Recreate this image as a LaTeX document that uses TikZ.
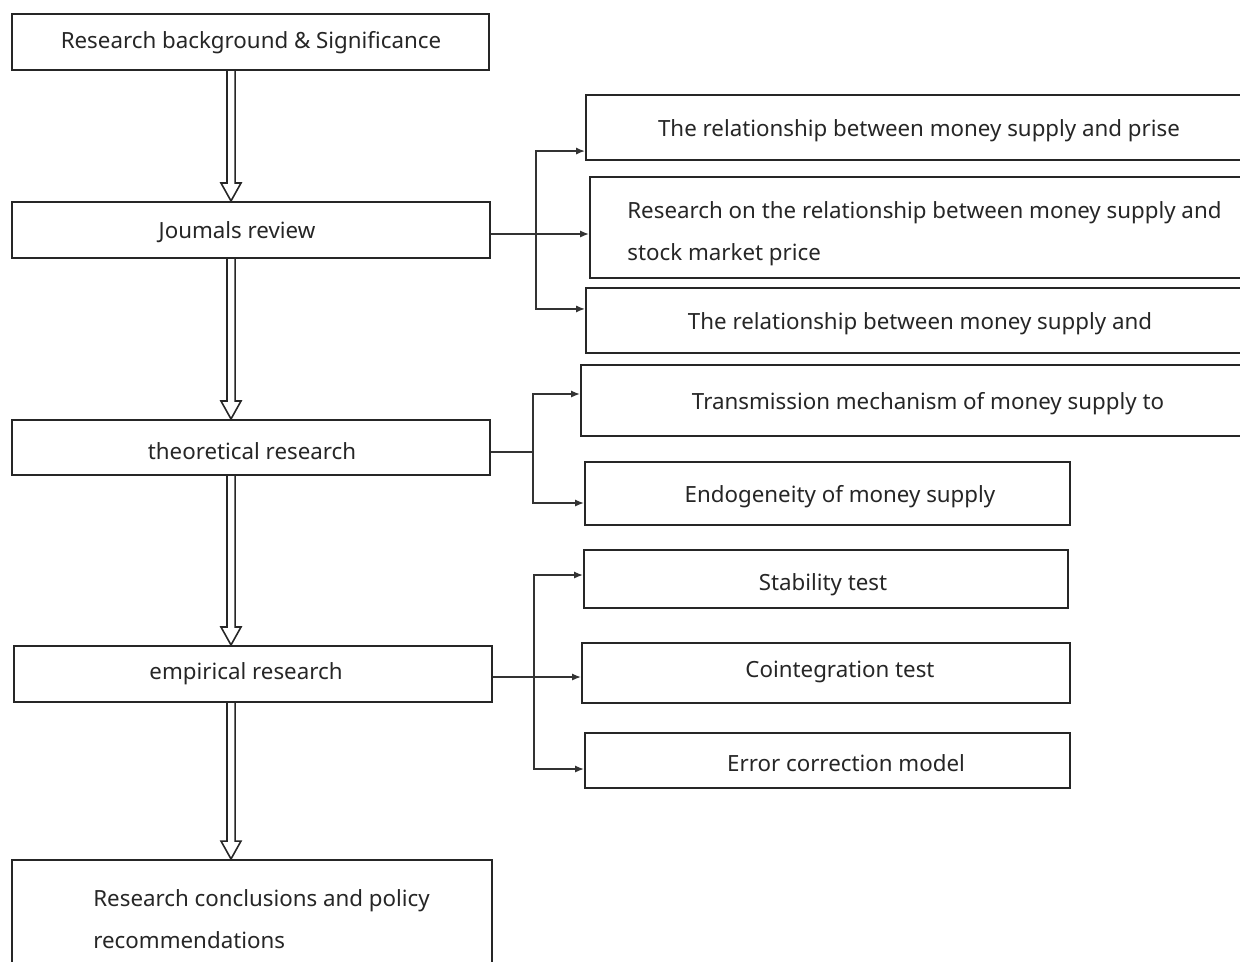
\documentclass[tikz,border=0pt]{standalone}
\usepackage{fontspec}
\setmainfont{Noto Sans}
\usetikzlibrary{calc,arrows.meta}
\newcommand{\bx}[5]{\node[box,minimum width={(#4-#2)*0.02cm},minimum height={(#5-#3)*0.02cm}] (#1) at ({(#2+#4)/2},{(#3+#5)/2}) {};}
\newcommand{\dbl}[2]{\draw[dblarrow] let \p1=(#1.south -| ax), \p2=(#2.north -| ax) in
  (\x1-2.3pt,\y1) -- (\x1-2.3pt,\y2+10.2pt) -- (\x1-5.7pt,\y2+10.2pt) -- (\x1,\y2) --
  (\x1+5.7pt,\y2+10.2pt) -- (\x1+2.3pt,\y2+10.2pt) -- (\x1+2.3pt,\y1);}
\begin{document}
\begin{tikzpicture}[x=0.02cm,y=-0.02cm,
  box/.style={draw=black!85,line width=1.2pt,inner sep=0pt,fill=white},
  txt/.style={font=\fontsize{12.7}{23.9}\selectfont,inner sep=0pt,text=black!85},
  link/.style={draw=black!80,line width=0.8pt},
  tip/.style={-{Latex[length=5pt,width=4pt]}},
  dblarrow/.style={draw=black!85,line width=0.9pt,fill=white,line join=miter}]
\useasboundingbox (0,0) rectangle (1240,961);
\clip (0,0) rectangle (1240,961);
% main column
\bx{b1}{12}{14}{489}{70}
\bx{b2}{12}{202}{490}{258}
\bx{b3}{12}{420}{490}{475}
\bx{b4}{14}{646}{492}{702}
\bx{b5}{12}{860}{492}{985}
\node[txt] (t1) at (251,43) {Research background \& Significance};
\node[txt] (t2) at (237,232) {Joumals review};
\node[txt] (t3) at (252,451) {theoretical research};
\node[txt] (t4) at (246,674) {empirical research};
\node[txt,align=left,anchor=west] (t5) at (93,919) {Research conclusions and policy\\recommendations};
% right boxes
\bx{r1}{586}{95}{1252}{160}
\bx{r2}{590}{177}{1262}{278}
\bx{r3}{586}{288}{1254}{353}
\bx{r4}{581}{365}{1275}{436}
\bx{r5}{585}{462}{1070}{525}
\bx{r6}{584}{550}{1068}{608}
\bx{r7}{582}{643}{1070}{703}
\bx{r8}{585}{733}{1070}{788}
\node[txt] (s1) at (919,131) {The relationship between money supply and prise};
\node[txt,align=left,anchor=west] (s2) at (627,234) {Research on the relationship between money supply and\\stock market price};
\node[txt] (s3) at (920,324) {The relationship between money supply and};
\node[txt] (s4) at (928,404) {Transmission mechanism of money supply to};
\node[txt] (s5) at (840,497) {Endogeneity of money supply};
\node[txt] (s6) at (823,585) {Stability test};
\node[txt] (s7) at (840,672) {Cointegration test};
\node[txt] (s8) at (846,763) {Error correction model};
% double arrows
\coordinate (ax) at (231,0);
\dbl{b1}{b2}
\dbl{b2}{b3}
\dbl{b3}{b4}
\dbl{b4}{b5}
% branch connectors
\coordinate (j1) at ($(b2.east)+(45,4)$);
\draw[link] (b2.east) ++(0,4) -- (j1);
\draw[link,tip] (j1) |- ($(r1.south west)+(0,-10)$);
\draw[link,tip] (j1) -- (j1 -| r2.west);
\draw[link,tip] (j1) |- ($(r3.north west)+(0,22)$);
\coordinate (j2) at ($(b3.east)+(42,4.5)$);
\draw[link] (b3.east) ++(0,4.5) -- (j2);
\draw[link,tip] (j2) |- ($(r4.west)+(0,-6.5)$);
\draw[link,tip] (j2) |- ($(r5.west)+(0,9.5)$);
\coordinate (j3) at ($(b4.east)+(41,3)$);
\draw[link] (b4.east) ++(0,3) -- (j3);
\draw[link,tip] (j3) |- ($(r6.west)+(0,-4)$);
\draw[link,tip] (j3) -- (j3 -| r7.west);
\draw[link,tip] (j3) |- ($(r8.west)+(0,8.5)$);
\end{tikzpicture}
\end{document}
